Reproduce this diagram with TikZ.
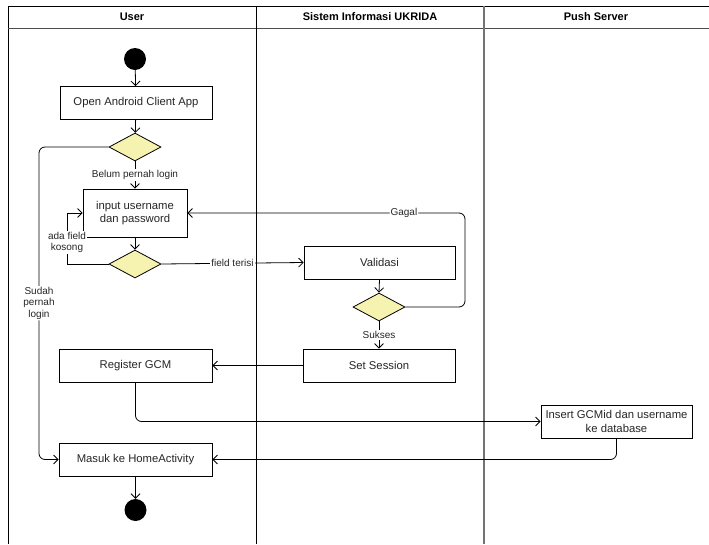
\documentclass[tikz,border=0pt]{standalone}
\usepackage{fontspec}
\setmainfont{Liberation Sans}
\usetikzlibrary{shapes.geometric,arrows.meta}
\definecolor{dfill}{RGB}{246,242,176}
\begin{document}
\begin{tikzpicture}[x=1pt,y=-1pt,
  act/.style={draw, rectangle, minimum height=33pt, inner sep=0pt, line width=0.8pt,
              font=\fontsize{11.3}{13.5}\selectfont, align=center, text=black!85},
  dec/.style={draw, diamond, fill=dfill, minimum width=52pt, minimum height=28pt, inner sep=0pt, line width=0.8pt},
  dot/.style={circle, fill=black, minimum size=22pt, inner sep=0pt},
  flow/.style={draw, -{Straight Barb[length=4.5pt,width=9pt]}, line width=0.8pt},
  lbl/.style={fill=white, inner sep=1pt, font=\fontsize{10}{11.5}\selectfont, align=center, text=black!85},
  hdr/.style={font=\bfseries\fontsize{11}{13}\selectfont}]
\useasboundingbox (0,0) rectangle (709,544);
\fill[white] (0,0) rectangle (709,544);

% swimlane frame
\draw[line width=0.9pt] (709,6) -- (8,6) -- (8,544);
\draw[line width=1pt, black!70] (8,28) -- (709,28);
\draw[line width=0.8pt] (256,6) -- (256,544);
\draw[line width=1.4pt, black!55] (484,6) -- (484,544);

\node[hdr] (hu) at (132,17) {User};
\node[hdr] (hs) at (370,17) {Sistem Informasi UKRIDA};
\node[hdr] (hp) at (596,17) {Push Server};

% bend coordinates
\coordinate (xl) at (39,0);
\coordinate (xk) at (67,0);
\coordinate (xg) at (465,0);

% nodes
\node[dot] (start) at (135,59) {};
\node[act, minimum width=152pt] (open) at (136,103) {Open Android Client App};
\node[dec] (d1) at (135,147) {};
\node[act, minimum width=104pt, minimum height=48pt] (input) at (135,213) {input username\\dan password};
\node[dec] (d2) at (135,264) {};
\node[act, minimum width=151pt] (valid) at (379.5,262.5) {Validasi};
\node[dec] (d3) at (379,307) {};
\node[act, minimum width=152pt] (sets) at (379,365.5) {Set Session};
\node[act, minimum width=153pt] (reg) at (135.5,365.5) {Register GCM};
\node[act, minimum width=151pt] (ins) at (616.5,421.5) {Insert GCMid dan username\\ke database};
\node[act, minimum width=153pt] (masuk) at (135.5,459.5) {Masuk ke HomeActivity};
\node[dot] (end) at (135.5,510) {};

% connectors
\draw[flow] (start) -- (open);
\draw[flow] (open) -- (d1);
\draw[flow] (d1.south) -- node[lbl]{Belum pernah login} (input.north);
\draw[flow, rounded corners=6pt] (d1.west) -- (d1.west -| xl) -- node[lbl]{Sudah\\pernah\\login} (masuk.west -| xl) -- (masuk.west);
\draw[flow] (input.south) -- (d2.north);
\draw[flow] (d2.west) -- (d2.west -| xk) -- node[lbl, pos=0.42]{ada field\\kosong} (input.west -| xk) -- (input.west);
\draw[flow] (d2.east) -- node[lbl]{field terisi} (valid.west);
\draw[flow] (valid.south) -- (d3.north);
\draw[flow, rounded corners=6pt] (d3.east) -- (d3.east -| xg) -- (input.east -| xg) -- node[lbl, pos=0.22]{Gagal} (input.east);
\draw[flow] (d3.south) -- node[lbl]{Sukses} (sets.north);
\draw[flow] (sets.west) -- (reg.east);
\draw[flow, rounded corners=6pt] (reg.south) |- (ins.west);
\draw[flow, rounded corners=6pt] (ins.south) |- (masuk.east);
\draw[flow] (masuk.south) -- (end);
\end{tikzpicture}
\end{document}
